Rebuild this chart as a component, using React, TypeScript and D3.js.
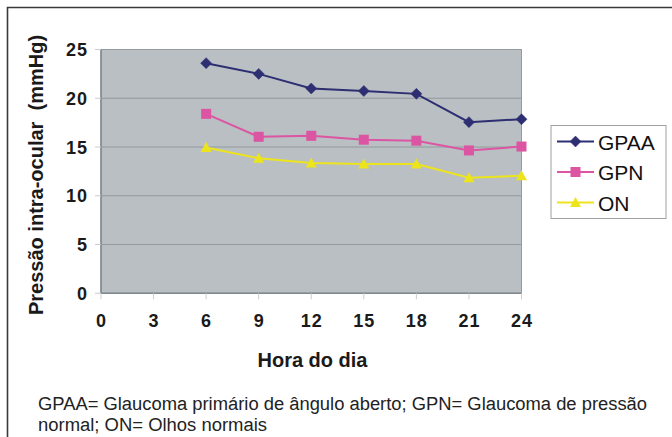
import React from "react";
import * as d3 from "d3";

const hours = [6, 9, 12, 15, 18, 21, 24];
const gpaa = [23.6, 22.5, 21.0, 20.75, 20.45, 17.55, 17.85];
const gpn = [18.4, 16.05, 16.15, 15.75, 15.65, 14.65, 15.05];
const on = [14.95, 13.85, 13.35, 13.25, 13.25, 11.85, 12.05];
const xTicks = [0, 3, 6, 9, 12, 15, 18, 21, 24];
const yTicks = [0, 5, 10, 15, 20, 25];
const seriesNames = ["GPAA", "GPN", "ON"];
const captionLines = [
  "GPAA= Glaucoma primário de ângulo aberto; GPN= Glaucoma de pressão",
  "normal; ON= Olhos normais",
];

const W = 672;
const H = 437;
const plot = { left: 101, right: 521.5, top: 49.5, bottom: 293.3 };

const colors = ["#2e2e72", "#dc55a2", "#ece41c"];
const seriesData = [gpaa, gpn, on];

function Marker({ kind, x, y, color }: { kind: number; x: number; y: number; color: string }) {
  if (kind === 0) {
    const r = 5.5;
    return (
      <path
        d={`M${x},${y - r}L${x + r},${y}L${x},${y + r}L${x - r},${y}Z`}
        fill={color}
        stroke={color}
        strokeWidth={0.5}
      />
    );
  }
  if (kind === 1) {
    const s = 10;
    return <rect x={x - s / 2} y={y - s / 2} width={s} height={s} fill={color} />;
  }
  const h = 10;
  const w = 11;
  return (
    <path
      d={`M${x},${y - h * 0.55}L${x + w / 2},${y + h * 0.45}L${x - w / 2},${y + h * 0.45}Z`}
      fill={color}
    />
  );
}

export default function App() {
  const x = d3.scaleLinear().domain([0, 24]).range([plot.left, plot.right]);
  const y = d3.scaleLinear().domain([0, 25]).range([plot.bottom, plot.top]);
  const line = d3
    .line<number>()
    .x((_, i) => x(hours[i]))
    .y((d) => y(d));

  const font = "'Liberation Sans', Arial, Helvetica, sans-serif";

  return (
    <svg
      width={W}
      height={H}
      style={{ position: "absolute", left: 0, top: 0, background: "#fff" }}
      fontFamily={font}
    >
      {/* outer frame */}
      <path d={`M7.5,${H}L7.5,7.5L${W},7.5`} fill="none" stroke="#3a3a3a" strokeWidth={1.6} />

      {/* plot area */}
      <rect
        x={plot.left}
        y={plot.top}
        width={plot.right - plot.left}
        height={plot.bottom - plot.top}
        fill="#b9bfc3"
        stroke="#949ca0"
        strokeWidth={1}
      />
      {yTicks
        .filter((t) => t > 0 && t < 25)
        .map((t) => (
          <line
            key={`g${t}`}
            x1={plot.left}
            x2={plot.right}
            y1={y(t)}
            y2={y(t)}
            stroke="#939b9f"
            strokeWidth={1}
          />
        ))}
      {/* axes */}
      <line x1={plot.left} x2={plot.left} y1={plot.top} y2={plot.bottom} stroke="#7f888c" strokeWidth={1.5} />
      <line x1={plot.left} x2={plot.right} y1={plot.bottom} y2={plot.bottom} stroke="#7f888c" strokeWidth={1.5} />
      {yTicks.map((t) => (
        <line key={`yt${t}`} x1={plot.left - 6} x2={plot.left} y1={y(t)} y2={y(t)} stroke="#c9cdd0" strokeWidth={1} />
      ))}
      {xTicks.map((t) => (
        <line key={`xt${t}`} x1={x(t)} x2={x(t)} y1={plot.bottom} y2={plot.bottom + 6} stroke="#c9cdd0" strokeWidth={1} />
      ))}

      {/* tick labels */}
      {yTicks.map((t) => (
        <text
          key={`yl${t}`}
          x={88}
          y={y(t) + 6.5}
          textAnchor="end"
          fontSize={18}
          fontWeight="bold"
          letterSpacing={1}
          fill="#1a1a1a"
        >
          {t}
        </text>
      ))}
      {xTicks.map((t) => (
        <text
          key={`xl${t}`}
          x={x(t) + 0.5}
          y={327}
          textAnchor="middle"
          fontSize={18}
          fontWeight="bold"
          letterSpacing={1}
          fill="#1a1a1a"
        >
          {t}
        </text>
      ))}

      {/* axis titles */}
      <text x={312.5} y={366.5} textAnchor="middle" fontSize={20} fontWeight="bold" fill="#1a1a1a">
        Hora do dia
      </text>
      <text
        transform="translate(43,175) rotate(-90)"
        textAnchor="middle"
        fontSize={20}
        fontWeight="bold"
        fill="#1a1a1a"
        style={{ whiteSpace: "pre" }}
      >
        {"Pressão intra-ocular  (mmHg)"}
      </text>

      {/* series */}
      {seriesData.map((s, si) => (
        <g key={`s${si}`}>
          <path d={line(s) || ""} fill="none" stroke={colors[si]} strokeWidth={2} />
          {s.map((v, i) => (
            <Marker key={i} kind={si} x={x(hours[i])} y={y(v)} color={colors[si]} />
          ))}
        </g>
      ))}

      {/* legend */}
      <rect x={551} y={125.5} width={115} height={93} fill="#fff" stroke="#a0a0a0" strokeWidth={1} />
      {seriesNames.map((n, i) => {
        const cy = 141.5 + i * 30.5;
        return (
          <g key={n}>
            <line x1={557} x2={594} y1={cy} y2={cy} stroke={colors[i]} strokeWidth={2} />
            <Marker kind={i} x={575.5} y={cy} color={colors[i]} />
            <text x={598} y={cy + 8} fontSize={21} fill="#111">
              {n}
            </text>
          </g>
        );
      })}

      {/* caption */}
      <text x={38} y={410} fontSize={18} fill="#222" textLength={609} lengthAdjust="spacingAndGlyphs">
        {captionLines[0]}
      </text>
      <text x={38} y={430.5} fontSize={18} fill="#222" textLength={229} lengthAdjust="spacingAndGlyphs">
        {captionLines[1]}
      </text>
    </svg>
  );
}
